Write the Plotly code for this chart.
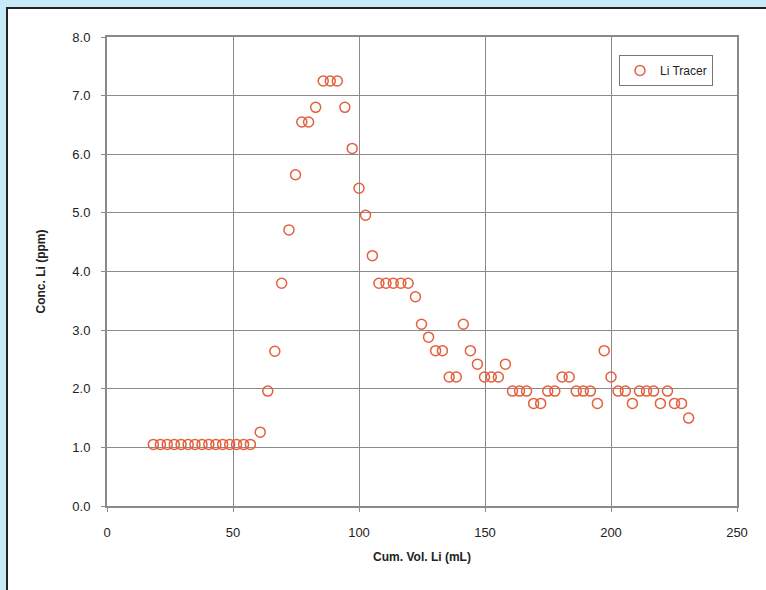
import plotly.graph_objects as go

cum_vol_ml = [18.4, 21.2, 23.9, 26.7, 29.4, 32.2, 34.9, 37.7, 40.4, 43.2, 45.9, 48.7, 51.4, 54.2, 56.9,
              60.8, 63.8, 66.6, 69.3, 72.2, 74.8, 77.3, 80.0, 82.8, 85.8, 88.6, 91.4, 94.4, 97.3,
              100.0, 102.6, 105.3, 107.9, 110.7, 113.6, 116.6, 119.5, 122.4, 124.8, 127.6, 130.4,
              133.1, 135.8, 138.6, 141.4, 144.2, 147.0, 149.8, 152.5, 155.3, 158.1, 160.9, 163.7,
              166.5, 169.3, 172.1, 174.9, 177.7, 180.6, 183.4, 186.2, 189.0, 191.8, 194.6, 197.3,
              200.0, 202.8, 205.7, 208.5, 211.3, 214.1, 216.9, 219.6, 222.4, 225.2, 228.0, 230.8]
conc_li_ppm = [1.05, 1.05, 1.05, 1.05, 1.05, 1.05, 1.05, 1.05, 1.05, 1.05, 1.05, 1.05, 1.05, 1.05, 1.05,
               1.26, 1.96, 2.64, 3.8, 4.71, 5.65, 6.55, 6.55, 6.8, 7.25, 7.25, 7.25, 6.8, 6.1,
               5.42, 4.96, 4.27, 3.8, 3.8, 3.8, 3.8, 3.8, 3.57, 3.1, 2.88, 2.65,
               2.65, 2.2, 2.2, 3.1, 2.65, 2.42, 2.2, 2.2, 2.2, 2.42, 1.96, 1.96,
               1.96, 1.75, 1.75, 1.96, 1.96, 2.2, 2.2, 1.96, 1.96, 1.96, 1.75, 2.65,
               2.2, 1.96, 1.96, 1.75, 1.96, 1.96, 1.96, 1.75, 1.96, 1.75, 1.75, 1.5]

x_ticks = [0, 50, 100, 150, 200, 250]
y_ticks = [0.0, 1.0, 2.0, 3.0, 4.0, 5.0, 6.0, 7.0, 8.0]

W, H = 766, 590
ml, mr, mt, mb = 107, 29, 37, 84
pw, ph = W - ml - mr, H - mt - mb

FAM = "Liberation Sans, Arial, sans-serif"
fig = go.Figure()
fig.add_trace(go.Scatter(
    x=cum_vol_ml, y=conc_li_ppm, mode="markers", name="Li Tracer",
    marker=dict(symbol="circle-open", size=10, color="#e2603c", line=dict(width=1.5, color="#e2603c")),
))

fig.update_layout(
    width=W, height=H,
    margin=dict(l=ml, r=mr, t=mt, b=mb, pad=0),
    paper_bgcolor="#c8e9f8",
    plot_bgcolor="white",
    font=dict(family=FAM, size=13, color="#222222"),
    showlegend=True,
    legend=dict(x=(619 - ml) / pw, y=(506 - 55) / ph, xanchor="left", yanchor="top",
                bgcolor="white", bordercolor="#777777", borderwidth=1,
                font=dict(family=FAM, size=12, color="#222222"),
                itemwidth=30, tracegroupgap=0),
    xaxis=dict(range=[0, 250], tickvals=x_ticks, ticktext=[str(v) for v in x_ticks],
               showgrid=True, gridcolor="#8a8a8a", gridwidth=1,
               showline=True, linecolor="#8a8a8a", linewidth=2, mirror=True,
               ticks="outside", ticklen=4, tickcolor="#8a8a8a", zeroline=False,
               ticklabelstandoff=9,
               title=dict(text="<b>Cum. Vol. Li (mL)</b>", standoff=14,
                          font=dict(family=FAM, size=12, color="#222222"))),
    yaxis=dict(range=[0, 8], tickvals=y_ticks, ticktext=[f"{v:.1f}" for v in y_ticks],
               showgrid=True, gridcolor="#8a8a8a", gridwidth=1,
               showline=True, linecolor="#8a8a8a", linewidth=2, mirror=True,
               ticks="outside", ticklen=4, tickcolor="#8a8a8a", zeroline=False,
               ticklabelstandoff=8,
               title=dict(text="<b>Conc. Li (ppm)</b>", standoff=24,
                          font=dict(family=FAM, size=12, color="#222222"))),
)

fig.add_shape(type="rect", xref="paper", yref="paper", layer="below",
              x0=(7 - ml) / pw, x1=(W + 10 - ml) / pw,
              y0=(ph + mt - (H + 10)) / ph, y1=(ph + mt - 8) / ph,
              fillcolor="white", line=dict(color="#222222", width=2))

fig.write_html("out.html")
